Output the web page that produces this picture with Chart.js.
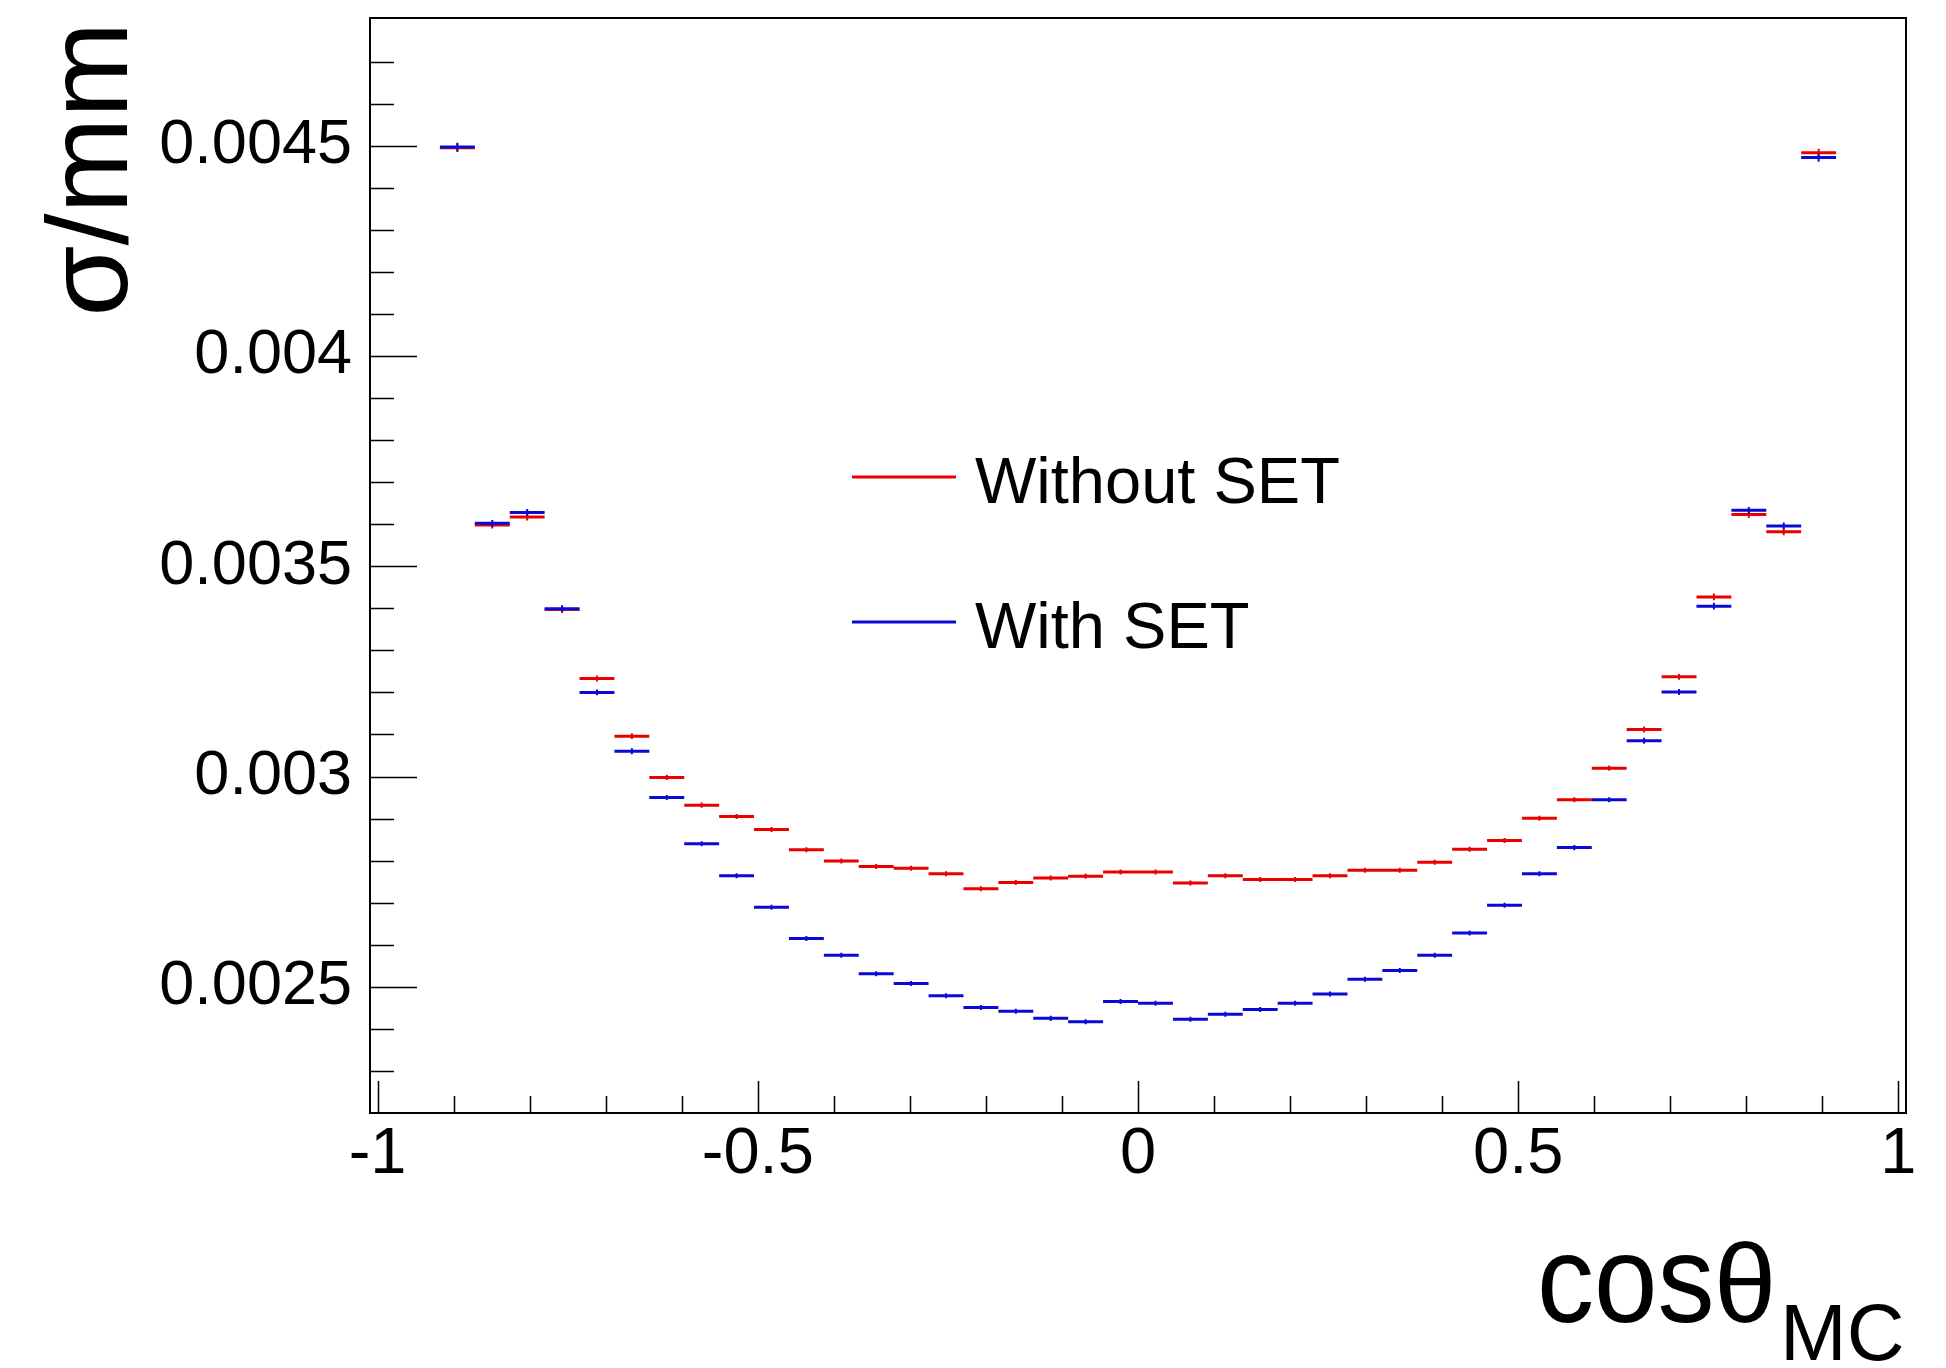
<!DOCTYPE html>
<html>
<head>
<meta charset="utf-8">
<script src="https://cdn.jsdelivr.net/npm/chart.js@4.4.1/dist/chart.umd.min.js"></script>
<style>
  html, body { margin: 0; padding: 0; background: #fff; }
  #wrap { width: 1946px; height: 1368px; }
</style>
</head>
<body>
<div id="wrap"><canvas id="c" width="1946" height="1368"></canvas></div>
<script>
// bin centres in cos(theta_MC), 40 bins of equal width
const binWidth = 0.0459;
const binCenters = [
  -0.8951, -0.8492, -0.8033, -0.7574, -0.7115, -0.6656, -0.6197, -0.5738, -0.5279, -0.4820,
  -0.4361, -0.3902, -0.3443, -0.2984, -0.2525, -0.2066, -0.1607, -0.1148, -0.0689, -0.0230,
   0.0230,  0.0689,  0.1148,  0.1607,  0.2066,  0.2525,  0.2984,  0.3443,  0.3902,  0.4361,
   0.4820,  0.5279,  0.5738,  0.6197,  0.6656,  0.7115,  0.7574,  0.8033,  0.8492,  0.8951
];

// sigma / mm, without SET
const withoutSET = [
  0.004495, 0.003598, 0.003617, 0.003397, 0.003233, 0.003096, 0.002998, 0.002932, 0.002905, 0.002874,
  0.002826, 0.002799, 0.002786, 0.002782, 0.002769, 0.002733, 0.002748, 0.002759, 0.002763, 0.002773,
  0.002773, 0.002747, 0.002764, 0.002755, 0.002755, 0.002764, 0.002777, 0.002777, 0.002796, 0.002827,
  0.002848, 0.002901, 0.002945, 0.003020, 0.003112, 0.003237, 0.003427, 0.003623, 0.003582, 0.004483
];
const withoutSETErr = [
  0.000010, 0.000008, 0.000008, 0.000008, 0.000007, 0.000007, 0.000006, 0.000006, 0.000006, 0.000006,
  0.000006, 0.000006, 0.000006, 0.000006, 0.000006, 0.000006, 0.000006, 0.000006, 0.000006, 0.000006,
  0.000006, 0.000006, 0.000006, 0.000006, 0.000006, 0.000006, 0.000006, 0.000006, 0.000006, 0.000006,
  0.000006, 0.000006, 0.000006, 0.000006, 0.000007, 0.000007, 0.000008, 0.000008, 0.000008, 0.000010
];

// sigma / mm, with SET
const withSET = [
  0.004497, 0.003602, 0.003628, 0.003399, 0.003200, 0.003060, 0.002950, 0.002840, 0.002764, 0.002689,
  0.002615, 0.002575, 0.002531, 0.002508, 0.002479, 0.002451, 0.002442, 0.002425, 0.002417, 0.002465,
  0.002461, 0.002423, 0.002435, 0.002446, 0.002461, 0.002483, 0.002518, 0.002539, 0.002575, 0.002628,
  0.002694, 0.002769, 0.002831, 0.002945, 0.003085, 0.003201, 0.003405, 0.003633, 0.003596, 0.004472
];
const withSETErr = withoutSETErr.slice();

const seriesNames = ["Without SET", "With SET"];
const seriesColors = ["rgb(235,0,0)", "rgb(10,10,215)"];

// axes
const xRange = [-1.01, 1.01];
const yRange = [0.0022, 0.0048036];
const xTicks = [-1, -0.5, 0, 0.5, 1];
const xTickLabels = ["-1", "-0.5", "0", "0.5", "1"];
const xMinorTicks = [-0.9, -0.8, -0.7, -0.6, -0.4, -0.3, -0.2, -0.1, 0.1, 0.2, 0.3, 0.4, 0.6, 0.7, 0.8, 0.9];
const yTicks = [0.0025, 0.003, 0.0035, 0.004, 0.0045];
const yTickLabels = ["0.0025", "0.003", "0.0035", "0.004", "0.0045"];
const yMinorTicks = [0.0023, 0.0024, 0.0026, 0.0027, 0.0028, 0.0029, 0.0031, 0.0032, 0.0033, 0.0034,
  0.0036, 0.0037, 0.0038, 0.0039, 0.0041, 0.0042, 0.0043, 0.0044, 0.0046, 0.0047];

const FONT = "'Liberation Sans', Arial, Helvetica, sans-serif";

// horizontal bin segments, separated by gaps
function binSegments(vals) {
  const pts = [];
  vals.forEach((v, i) => {
    pts.push({x: binCenters[i] - binWidth / 2, y: v});
    pts.push({x: binCenters[i] + binWidth / 2, y: v});
    pts.push({x: binCenters[i] + binWidth / 2, y: null});
  });
  return pts;
}
// vertical error bars at bin centres
function errSegments(vals, errs) {
  const pts = [];
  vals.forEach((v, i) => {
    pts.push({x: binCenters[i], y: v - errs[i]});
    pts.push({x: binCenters[i], y: v + errs[i]});
    pts.push({x: binCenters[i], y: null});
  });
  return pts;
}

function lineSet(data, color, width, order) {
  return {
    data: data,
    showLine: true,
    spanGaps: false,
    borderColor: color,
    borderWidth: width,
    pointRadius: 0,
    fill: false,
    order: order
  };
}

// frame, inner ticks, axis titles and legend, ROOT style
const rootFrame = {
  id: "rootFrame",
  afterDraw(chart) {
    const ctx = chart.ctx;
    const a = chart.chartArea;
    const xs = chart.scales.x, ys = chart.scales.y;
    ctx.save();
    ctx.strokeStyle = "#000";

    ctx.lineWidth = 1.5;
    ctx.beginPath();
    yTicks.forEach(v => { const y = Math.round(ys.getPixelForValue(v)) + 0.5; ctx.moveTo(a.left, y); ctx.lineTo(a.left + 47, y); });
    yMinorTicks.forEach(v => { const y = Math.round(ys.getPixelForValue(v)) + 0.5; ctx.moveTo(a.left, y); ctx.lineTo(a.left + 24, y); });
    xTicks.forEach(v => { const x = Math.round(xs.getPixelForValue(v)) + 0.5; ctx.moveTo(x, a.bottom); ctx.lineTo(x, a.bottom - 32); });
    xMinorTicks.forEach(v => { const x = Math.round(xs.getPixelForValue(v)) + 0.5; ctx.moveTo(x, a.bottom); ctx.lineTo(x, a.bottom - 17); });
    ctx.stroke();

    ctx.lineWidth = 2;
    ctx.strokeRect(a.left, a.top, a.right - a.left, a.bottom - a.top);

    ctx.fillStyle = "#000";
    // y title
    ctx.save();
    ctx.translate(127, a.top + 4);
    ctx.rotate(-Math.PI / 2);
    ctx.font = "115px " + FONT;
    ctx.textAlign = "right";
    ctx.textBaseline = "alphabetic";
    ctx.fillText("σ/mm", 0, 0);
    ctx.restore();

    // x title
    ctx.textAlign = "left";
    ctx.textBaseline = "alphabetic";
    ctx.save();
    ctx.translate(1537, 1322);
    ctx.scale(0.92, 1);
    ctx.font = "124px " + FONT;
    ctx.fillText("cos", 0, 0);
    ctx.restore();
    ctx.font = "112px " + FONT;
    ctx.fillText("θ", 1714, 1322);
    ctx.font = "80px " + FONT;
    ctx.fillText("MC", 1780, 1360);

    // legend
    const legendRows = [477, 622];
    ctx.font = "65px " + FONT;
    seriesNames.forEach((name, i) => {
      ctx.strokeStyle = seriesColors[i];
      ctx.lineWidth = 3;
      ctx.beginPath();
      ctx.moveTo(852, legendRows[i]);
      ctx.lineTo(956, legendRows[i]);
      ctx.stroke();
      ctx.fillStyle = "#000";
      ctx.fillText(name, 975, legendRows[i] + 26);
    });
    ctx.restore();
  }
};

new Chart(document.getElementById("c"), {
  type: "scatter",
  data: {
    datasets: [
      lineSet(binSegments(withSET), seriesColors[1], 3, 0),
      lineSet(errSegments(withSET, withSETErr), seriesColors[1], 2, 1),
      lineSet(binSegments(withoutSET), seriesColors[0], 3, 2),
      lineSet(errSegments(withoutSET, withoutSETErr), seriesColors[0], 2, 3)
    ]
  },
  options: {
    responsive: false,
    animation: false,
    events: [],
    layout: { padding: { left: 0, top: 18, right: 40, bottom: 0 } },
    plugins: { legend: { display: false }, tooltip: { enabled: false } },
    scales: {
      x: {
        type: "linear",
        min: xRange[0],
        max: xRange[1],
        grid: { display: false, drawTicks: false },
        border: { display: false },
        afterBuildTicks: axis => { axis.ticks = xTicks.map(v => ({value: v})); },
        afterFit: scale => { scale.height = 255; scale.paddingLeft = 0; scale.paddingRight = 0; },
        ticks: {
          padding: 3,
          maxRotation: 0,
          autoSkip: false,
          color: "#000",
          font: { family: FONT, size: 65 },
          callback: (value, index) => xTickLabels[index]
        }
      },
      y: {
        type: "linear",
        min: yRange[0],
        max: yRange[1],
        grid: { display: false, drawTicks: false },
        border: { display: false },
        afterBuildTicks: axis => { axis.ticks = yTicks.map(v => ({value: v})); },
        afterFit: scale => { scale.width = 370; scale.paddingTop = 0; scale.paddingBottom = 0; },
        ticks: {
          padding: 18,
          autoSkip: false,
          color: "#000",
          font: { family: FONT, size: 63 },
          callback: (value, index) => yTickLabels[index]
        }
      }
    }
  },
  plugins: [rootFrame]
});
</script>
</body>
</html>
